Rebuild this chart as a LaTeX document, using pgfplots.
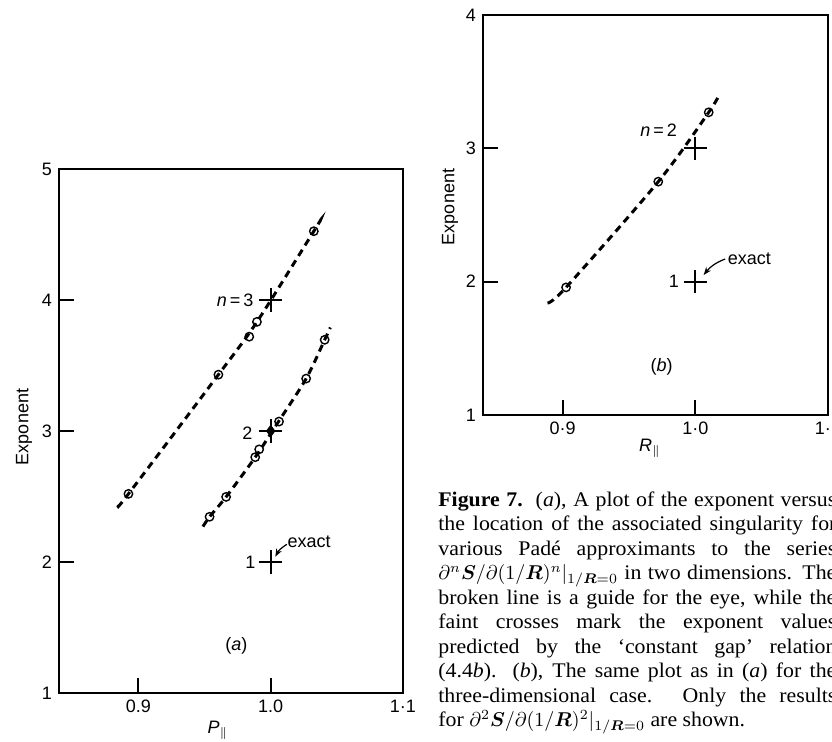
\documentclass[border=0pt]{standalone}
\usepackage{amsmath}
\usepackage{fontspec}
\setmainfont{Liberation Serif}[FakeStretch=1.05]
\setsansfont{Liberation Sans}
\usepackage{pgfplots}
\pgfplotsset{compat=1.18}
\usetikzlibrary{arrows.meta}

\pgfplotsset{
  myaxis/.style={
    scale only axis, anchor=south west,
    xmin=0.84, xmax=1.1,
    tick align=inside, xtick pos=left, ytick pos=left,
    major tick length=7.5pt,
    axis line style={line width=0.9pt},
    tick style={line width=0.9pt, black},
    tick label style={font=\sffamily\fontsize{9}{10}\selectfont},
    label style={font=\sffamily\fontsize{9}{10}\selectfont},
    xtick={0.9,1.0,1.1},
    clip=false,
  },
  guide/.style={black, smooth, line width=1.5pt, dash pattern=on 3.6pt off 2.6pt, mark=none},
  pts/.style={only marks, mark=o, mark size=2.1pt, mark options={solid, fill=white, line width=0.7pt}},
  crs/.style={only marks, mark=+, mark size=5.8pt, mark options={line width=0.9pt}},
}
\tikzset{ann/.style={font=\sffamily\fontsize{9}{10}\selectfont, inner sep=0pt}}

\begin{document}
\begin{tikzpicture}
\useasboundingbox (0,0) rectangle (416pt,371pt);
\clip (0,0) rectangle (416pt,371pt);

% ---------- panel (a)
\begin{axis}[myaxis, at={(29.5pt,24.5pt)}, width=172pt, height=262pt,
  ymin=1, ymax=5, ytick={1,2,3,4,5}, yticklabels={1,2,3,4,5},
  xticklabels={0.9,1.0,1·1},
  ylabel={Exponent},
  ylabel style={at={(rel axis cs:0,0.5)}, anchor=center, yshift=17.5pt, xshift=2pt},
  xlabel={{\itshape P}$_{\|}$},
  xlabel style={at={(rel axis cs:0.462,0)}, anchor=center, yshift=-18.5pt}]
\addplot[guide] coordinates {(0.885,2.43) (0.8925,2.52) (0.9605,3.43) (0.9896,3.833) (1.0326,4.525) (1.0376,4.61)};
\addplot[guide] coordinates {(0.9488,2.27) (0.9538,2.345) (0.9663,2.497) (0.9883,2.80) (1.0058,3.07) (1.0268,3.40) (1.0408,3.696) (1.0451,3.79)};
\addplot[crs] coordinates {(1.0,4.0) (1.0,3.0) (1.0,2.0)};
\addplot[only marks, mark=diamond*, mark size=2.8pt] coordinates {(1.0,3.0)};
\addplot[pts] coordinates {(0.8925,2.52) (0.9605,3.43) (0.9838,3.72) (0.9896,3.833) (1.0326,4.525)};
\addplot[pts] coordinates {(0.9538,2.345) (0.9663,2.497) (0.9883,2.80) (0.9913,2.86) (1.0063,3.072) (1.0268,3.40) (1.0408,3.696)};
\node[ann, anchor=east, xshift=-8.5pt] at (axis cs:1.0,4.0) {{\itshape n}\,=\,3};
\node[ann, anchor=east, xshift=-9pt, yshift=-1pt] at (axis cs:1.0,3.0) {2};
\node[ann, anchor=east, xshift=-7.5pt] at (axis cs:1.0,2.0) {1};
\node[ann, anchor=west] at (axis cs:1.0125,2.152) {exact};
\draw[-{Stealth[length=4pt,width=3pt]}, line width=0.6pt] (axis cs:1.0122,2.135) to[bend right=15] (axis cs:1.0035,2.04);
\node[ann] at (axis cs:0.974,1.359) {({\itshape a})};
\end{axis}

% ---------- panel (b)
\begin{axis}[myaxis, at={(241.5pt,163.5pt)}, width=172.5pt, height=200pt,
  ymin=1, ymax=4, ytick={1,2,3,4}, yticklabels={1,2,3,4},
  xticklabels={0·9,1·0,1·1},
  ylabel={Exponent},
  ylabel style={at={(rel axis cs:0,0.5)}, anchor=center, yshift=16.5pt, xshift=4pt},
  xlabel={{\itshape R}$_{\|}$},
  xlabel style={at={(rel axis cs:0.484,0)}, anchor=center, yshift=-16.5pt}]
\addplot[guide] coordinates {(0.8886,1.84) (0.9026,1.957) (0.9721,2.75) (1.0101,3.27) (1.0184,3.41)};
\addplot[crs] coordinates {(1.0,3.0) (1.0,2.0)};
\addplot[pts] coordinates {(0.9026,1.957) (0.9721,2.75) (1.0101,3.27)};
\node[ann, anchor=east, xshift=-9pt, yshift=9pt] at (axis cs:1.0,3.0) {{\itshape n}\,=\,2};
\node[ann, anchor=east, xshift=-8pt] at (axis cs:1.0,2.0) {1};
\node[ann, anchor=west] at (axis cs:1.0243,2.175) {exact};
\draw[-{Stealth[length=4pt,width=3pt]}, line width=0.6pt] (axis cs:1.0225,2.17) to[bend right=15] (axis cs:1.0063,2.05);
\node[ann] at (axis cs:0.9747,1.362) {({\itshape b})};
\end{axis}

% ---------- caption
\node[anchor=base west, inner sep=0pt] at (219pt,117.75pt) {\parbox[t]{199pt}{\fontsize{10.4}{12.25}\selectfont
\textbf{Figure 7.}\ \ (\textit{a}), A plot of the exponent versus\linebreak
the location of the associated singularity for\linebreak
various Padé approximants to the series\linebreak
$\partial^{n}\boldsymbol{S}/\partial(1/\boldsymbol{R})^{n}|_{1/\boldsymbol{R}=0}$ in two dimensions. The\linebreak
broken line is a guide for the eye, while the\linebreak
faint crosses mark the exponent values\linebreak
predicted by the `constant gap' relation\linebreak
(4.4\textit{b}). (\textit{b}), The same plot as in (\textit{a}) for the\linebreak
three-dimensional case. Only the results\linebreak
for $\partial^{2}\boldsymbol{S}/\partial(1/\boldsymbol{R})^{2}|_{1/\boldsymbol{R}=0}$ are shown.}};
\end{tikzpicture}
\end{document}
